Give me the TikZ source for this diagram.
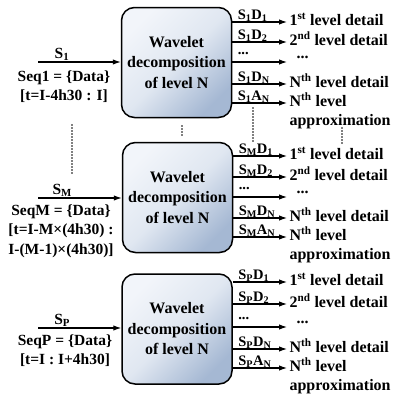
\documentclass[tikz,border=0pt]{standalone}
\usepackage{fontspec}
\setmainfont{Liberation Serif}
\usepackage{tikz}
\usetikzlibrary{arrows.meta,positioning}
\usepackage{xcolor}

\definecolor{boxtop}{RGB}{242,245,250}
\definecolor{boxmid}{RGB}{224,231,241}
\definecolor{boxbot}{RGB}{165,184,211}

\tikzset{
  wbox/.style={draw, line width=1.5pt, rounded corners=13pt,
    minimum width=110pt, minimum height=110pt,
    top color=boxtop, bottom color=boxbot, middle color=boxmid, shading angle=45,
    align=center, font=\fontsize{16}{20.5}\selectfont\bfseries},
  lab/.style={font=\fontsize{14.5}{17}\selectfont\bfseries, anchor=base west,
    inner sep=0pt, xshift=5pt, yshift=3pt},
  slab/.style={font=\fontsize{15.5}{18}\selectfont\bfseries, anchor=base,
    inner sep=0pt, yshift=4pt},
  rtext/.style={font=\fontsize{16}{20}\selectfont\bfseries, anchor=west,
    inner sep=1pt, text height=11pt, text depth=3.5pt},
  ltext/.style={font=\fontsize{15.5}{19.5}\selectfont\bfseries, align=center,
    anchor=north, inner sep=0pt},
  dots/.style={line width=1.6pt, line cap=round, dash pattern=on 0pt off 3pt}
}

\begin{document}
\begin{tikzpicture}[x=1pt, y=-1pt, >={Latex[length=8pt,width=5.5pt]}, line width=1.1pt]
        \useasboundingbox (0,0) rectangle (393,394);

        % decomposition blocks
        \node[wbox] (b1) at (176.5,62.5) {Wavelet\\decomposition\\of level N};
        \node[wbox] (b2) at (177.5,197.5) {Wavelet\\decomposition\\of level N};
        \node[wbox] (b3) at (177,329) {Wavelet\\decomposition\\of level N};

        % inputs
        \coordinate (in1) at (38,62);
        \coordinate (in2) at (38,198);
        \coordinate (in3) at (38,328);
        \draw[->] (in1) -- node[slab, pos=.29] {S\textsubscript{1}} (in1 -| b1.west);
        \draw[->] (in2) -- node[slab, pos=.29] {S\textsubscript{M}} (in2 -| b2.west);
        \draw[->] (in3) -- node[slab, pos=.29] {S\textsubscript{P}} (in3 -| b3.west);
        \node[ltext] (q1) at (64,70) {Seq1 = \{Data\}\\{[}t=I-4h30 : I{]}};
        \node[ltext] (q2) at (61,204) {SeqM = \{Data\}\\{[}t=I-M×(4h30) :\\I-(M-1)×(4h30){]}};
        \node[ltext] (q3) at (65,334) {SeqP = \{Data\}\\{[}t=I : I+4h30{]}};

        % outputs of block 1
        \coordinate (o11) at (287,22);
        \coordinate (o12) at (287,42);
        \coordinate (o13) at (287,62);
        \coordinate (o14) at (287,84);
        \coordinate (o15) at (287,103);
        \draw[->] (o11 -| b1.east) -- node[lab, pos=0] {S\textsubscript{1}D\textsubscript{1}} (o11);
        \draw[->] (o12 -| b1.east) -- node[lab, pos=0] {S\textsubscript{1}D\textsubscript{2}} (o12);
        \draw[->] (o13 -| b1.east) -- node[lab, pos=0, yshift=5pt] {...} (o13);
        \draw[->] (o14 -| b1.east) -- node[lab, pos=0] {S\textsubscript{1}D\textsubscript{N}} (o14);
        \draw[->] (o15 -| b1.east) -- node[lab, pos=0] {S\textsubscript{1}A\textsubscript{N}} (o15);
        \node[rtext, right=1pt of o11] {1\textsuperscript{st} level detail};
        \node[rtext, right=1pt of o12] {2\textsuperscript{nd} level detail};
        \node[rtext, right=8pt of o13, yshift=7.5pt] {...};
        \node[rtext, right=1pt of o14] {N\textsuperscript{th} level detail};
        \node[rtext, right=1pt of o15] (t15) {N\textsuperscript{th} level};
        \node[rtext, below=1.5pt of t15.south west, anchor=north west] {approximation};

        % outputs of block M
        \coordinate (o21) at (287,156);
        \coordinate (o22) at (287,177);
        \coordinate (o23) at (287,197);
        \coordinate (o24) at (287,218);
        \coordinate (o25) at (287,237);
        \draw[->] (o21 -| b2.east) -- node[lab, pos=0] {S\textsubscript{M}D\textsubscript{1}} (o21);
        \draw[->] (o22 -| b2.east) -- node[lab, pos=0] {S\textsubscript{M}D\textsubscript{2}} (o22);
        \draw[->] (o23 -| b2.east) -- node[lab, pos=0, yshift=5pt] {...} (o23);
        \draw[->] (o24 -| b2.east) -- node[lab, pos=0] {S\textsubscript{M}D\textsubscript{N}} (o24);
        \draw[->] (o25 -| b2.east) -- node[lab, pos=0] {S\textsubscript{M}A\textsubscript{N}} (o25);
        \node[rtext, right=1pt of o21] {1\textsuperscript{st} level detail};
        \node[rtext, right=1pt of o22] {2\textsuperscript{nd} level detail};
        \node[rtext, right=8pt of o23, yshift=7.5pt] {...};
        \node[rtext, right=1pt of o24] {N\textsuperscript{th} level detail};
        \node[rtext, right=1pt of o25] (t25) {N\textsuperscript{th} level};
        \node[rtext, below=1.5pt of t25.south west, anchor=north west] {approximation};

        % outputs of block P
        \coordinate (o31) at (287,282);
        \coordinate (o32) at (287,304);
        \coordinate (o33) at (287,327);
        \coordinate (o34) at (287,349);
        \coordinate (o35) at (287,368);
        \draw[->] (o31 -| b3.east) -- node[lab, pos=0] {S\textsubscript{P}D\textsubscript{1}} (o31);
        \draw[->] (o32 -| b3.east) -- node[lab, pos=0] {S\textsubscript{P}D\textsubscript{2}} (o32);
        \draw[->] (o33 -| b3.east) -- node[lab, pos=0, yshift=5pt] {...} (o33);
        \draw[->] (o34 -| b3.east) -- node[lab, pos=0] {S\textsubscript{P}D\textsubscript{N}} (o34);
        \draw[->] (o35 -| b3.east) -- node[lab, pos=0] {S\textsubscript{P}A\textsubscript{N}} (o35);
        \node[rtext, right=1pt of o31] {1\textsuperscript{st} level detail};
        \node[rtext, right=1pt of o32] {2\textsuperscript{nd} level detail};
        \node[rtext, right=8pt of o33, yshift=7.5pt] {...};
        \node[rtext, right=1pt of o34] {N\textsuperscript{th} level detail};
        \node[rtext, right=1pt of o35] (t35) {N\textsuperscript{th} level};
        \node[rtext, below=1.5pt of t35.south west, anchor=north west] {approximation};

        % vertical dots
        \draw[dots] (72,125)--(72,173);
        \draw[dots] (182,126)--(182,137);
        \draw[dots] (253,108)--(253,142);
        \draw[dots] (342,128)--(342,143);
    \end{tikzpicture}
\end{document}
